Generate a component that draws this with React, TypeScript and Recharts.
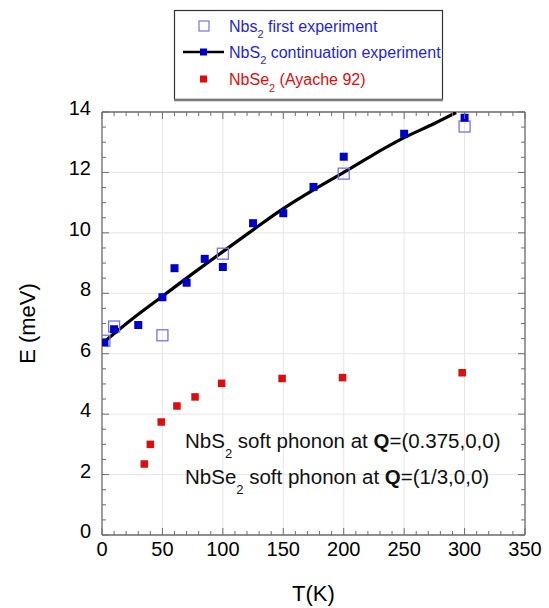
import { ComposedChart, Line, Scatter, XAxis, YAxis, CartesianGrid, ReferenceLine } from 'recharts';

// NbS2 first experiment (open squares)
const T_FIRST = [2, 10, 50, 100, 200, 300];
const E_FIRST = [6.43, 6.9, 6.61, 9.31, 11.96, 13.52];

// NbS2 continuation experiment (filled blue squares)
const T_CONT = [2, 10, 30, 50, 60, 70, 85, 100, 125, 150, 175, 200, 250, 300];
const E_CONT = [6.38, 6.81, 6.95, 7.87, 8.83, 8.35, 9.14, 8.87, 10.32, 10.65, 11.52, 12.52, 13.28, 13.81];

// black curve through the NbS2 data
const T_FIT = [2, 25, 50, 75, 100, 125, 150, 175, 200, 225, 250, 275, 293];
const E_FIT = [6.4, 7.15, 7.9, 8.65, 9.38, 10.1, 10.8, 11.42, 12.0, 12.6, 13.15, 13.62, 13.98];

// NbSe2 (Ayache 92)
const T_SE = [35, 40, 49, 62, 77, 99, 149, 199, 298];
const E_SE = [2.35, 3.0, 3.74, 4.27, 4.57, 5.02, 5.18, 5.21, 5.37];

const X_TICKS = [0, 50, 100, 150, 200, 250, 300, 350];
const X_MINOR = Array.from({ length: 36 }, (_, i) => i * 10);
const Y_TICKS = [0, 2, 4, 6, 8, 10, 12, 14];
const Y_MINOR = Array.from({ length: 29 }, (_, i) => i * 0.5);

const rows = (ts: number[], es: number[]) => ts.map((t, i) => ({ t, e: es[i] }));
const firstExp = rows(T_FIRST, E_FIRST);
const contExp = rows(T_CONT, E_CONT);
const fitLine = rows(T_FIT, E_FIT);
const nbse2 = rows(T_SE, E_SE);

const BLUE = '#0000cc';
const OPEN = '#7474e6';
const RED = '#e00c0c';
const TEXT_BLUE = '#1f1fdc';
const AXIS = '#6e6e6e';
const FONT = '"Liberation Sans", Arial, sans-serif';

const W = 549, H = 608;
const MARGIN = { top: 112, right: 24, bottom: 0, left: 0 };
const X_AXIS_H = 73, Y_AXIS_W = 102;
const PLOT_W = W - MARGIN.right - Y_AXIS_W;
const PLOT_H = H - MARGIN.top - X_AXIS_H;
const X_GAP = 7;   // tickSize + tickMargin of the x axis
const Y_GAP = 11;  // tickSize + tickMargin of the y axis

// inward ticks on bottom + top, labels on majors
const XTick = (p: any) => {
  const v = p.payload.value;
  const major = v % 50 === 0;
  const len = major ? 7 : 4;
  const y0 = p.y - X_GAP;
  return (
    <g>
      <line x1={p.x} y1={y0} x2={p.x} y2={y0 - len} stroke={AXIS} />
      <line x1={p.x} y1={y0 - PLOT_H} x2={p.x} y2={y0 - PLOT_H + len} stroke={AXIS} />
      {major && <text x={p.x} y={y0 + 21} textAnchor="middle" fontSize={20} fill="#000">{v}</text>}
    </g>
  );
};

// inward ticks on left + right, labels on majors
const YTick = (p: any) => {
  const v = p.payload.value;
  const major = Math.abs(v % 2) < 1e-9;
  const len = major ? 7 : 4;
  const x0 = p.x + Y_GAP;
  return (
    <g>
      <line x1={x0} y1={p.y} x2={x0 + len} y2={p.y} stroke={AXIS} />
      <line x1={x0 + PLOT_W} y1={p.y} x2={x0 + PLOT_W - len} y2={p.y} stroke={AXIS} />
      {major && <text x={p.x} y={p.y + 3} textAnchor="end" fontSize={20} fill="#000">{v}</text>}
    </g>
  );
};

const filledSquare = (color: string, s: number) => (p: any) => (
  <rect x={p.cx - s / 2} y={p.cy - s / 2} width={s} height={s} fill={color} />
);
const openSquare = (p: any) => (
  <rect x={p.cx - 5.5} y={p.cy - 5.5} width={11} height={11} fill="none" stroke={OPEN} strokeWidth={1.3} />
);

export default function App() {
  return (
    <div style={{ position: 'absolute', left: 0, top: 0, width: W, height: H, fontFamily: FONT, background: '#fff' }}>
      <ComposedChart width={W} height={H} margin={MARGIN}>
        <CartesianGrid xAxisId="x" yAxisId="y" stroke="#e6e6e6" verticalValues={X_TICKS} horizontalValues={Y_TICKS} />
        <XAxis
          xAxisId="x" dataKey="t" type="number" domain={[0, 350]} ticks={X_MINOR} allowDataOverflow
          interval={0} height={X_AXIS_H} tickLine={false} tickSize={6} tickMargin={1}
          axisLine={{ stroke: AXIS, strokeWidth: 1.3 }}
          tick={XTick}
          label={{ value: 'T(K)', position: 'insideBottom', offset: 7, fontSize: 22, fill: '#000' }}
        />
        <YAxis
          yAxisId="y" dataKey="e" type="number" domain={[0, 14]} ticks={Y_MINOR} allowDataOverflow
          interval={0} width={Y_AXIS_W} tickLine={false} tickSize={6} tickMargin={5}
          axisLine={{ stroke: AXIS, strokeWidth: 1.3 }}
          tick={YTick}
          label={{ value: 'E (meV)', angle: -90, position: 'insideLeft', offset: 27, fontSize: 22, fill: '#000', style: { textAnchor: 'middle' } }}
        />
        <ReferenceLine xAxisId="x" yAxisId="y" y={14} stroke={AXIS} strokeWidth={1.3} />
        <ReferenceLine xAxisId="x" yAxisId="y" x={350} stroke={AXIS} strokeWidth={1.3} />

        <Scatter xAxisId="x" yAxisId="y" data={firstExp} dataKey="e" shape={openSquare} isAnimationActive={false} />
        <Line xAxisId="x" yAxisId="y" data={fitLine} dataKey="e" type="monotone" stroke="#000" strokeWidth={3.2} dot={false} activeDot={false} isAnimationActive={false} />
        <Scatter xAxisId="x" yAxisId="y" data={contExp} dataKey="e" shape={filledSquare(BLUE, 8)} isAnimationActive={false} />
        <Scatter xAxisId="x" yAxisId="y" data={nbse2} dataKey="e" shape={filledSquare(RED, 7.5)} isAnimationActive={false} />
      </ComposedChart>

      <svg width={W} height={H} style={{ position: 'absolute', left: 0, top: 0, pointerEvents: 'none' }} fontFamily={FONT}>
        {/* legend */}
        <rect x={174.5} y={10.5} width={268} height={89} fill="#fff" stroke="#333" strokeWidth={1.2} />
        <line x1={174} y1={100} x2={443} y2={100} stroke="#7a7a7a" strokeWidth={2.5} />
        <rect x={199} y={21} width={10} height={10} fill="none" stroke={OPEN} strokeWidth={1.2} />
        <text x={229} y={31.5} fontSize={16} fill={TEXT_BLUE}>
          Nbs<tspan fontSize={11} dy={6.5}>2</tspan><tspan dy={-6.5}> first experiment</tspan>
        </text>
        <line x1={183} y1={52} x2={224} y2={52} stroke="#000" strokeWidth={2.6} />
        <rect x={200} y={48.5} width={7} height={7} fill={BLUE} />
        <text x={229} y={57.5} fontSize={16} fill={TEXT_BLUE}>
          NbS<tspan fontSize={11} dy={6.5}>2</tspan><tspan dy={-6.5}> continuation experiment</tspan>
        </text>
        <rect x={200} y={75.5} width={7} height={7} fill={RED} />
        <text x={229} y={85} fontSize={16} fill={RED}>
          NbSe<tspan fontSize={11} dy={6.5}>2</tspan><tspan dy={-6.5}> (Ayache 92)</tspan>
        </text>

        {/* annotations */}
        <text x={185} y={448} fontSize={20.5} fill="#111">
          NbS<tspan fontSize={13} dy={10}>2</tspan><tspan dy={-10}> soft phonon at </tspan><tspan fontWeight="bold">Q</tspan>=(0.375,0,0)
        </text>
        <text x={185} y={484} fontSize={20.5} fill="#111">
          NbSe<tspan fontSize={13} dy={10}>2</tspan><tspan dy={-10}> soft phonon at </tspan><tspan fontWeight="bold">Q</tspan>=(1/3,0,0)
        </text>
      </svg>
    </div>
  );
}
